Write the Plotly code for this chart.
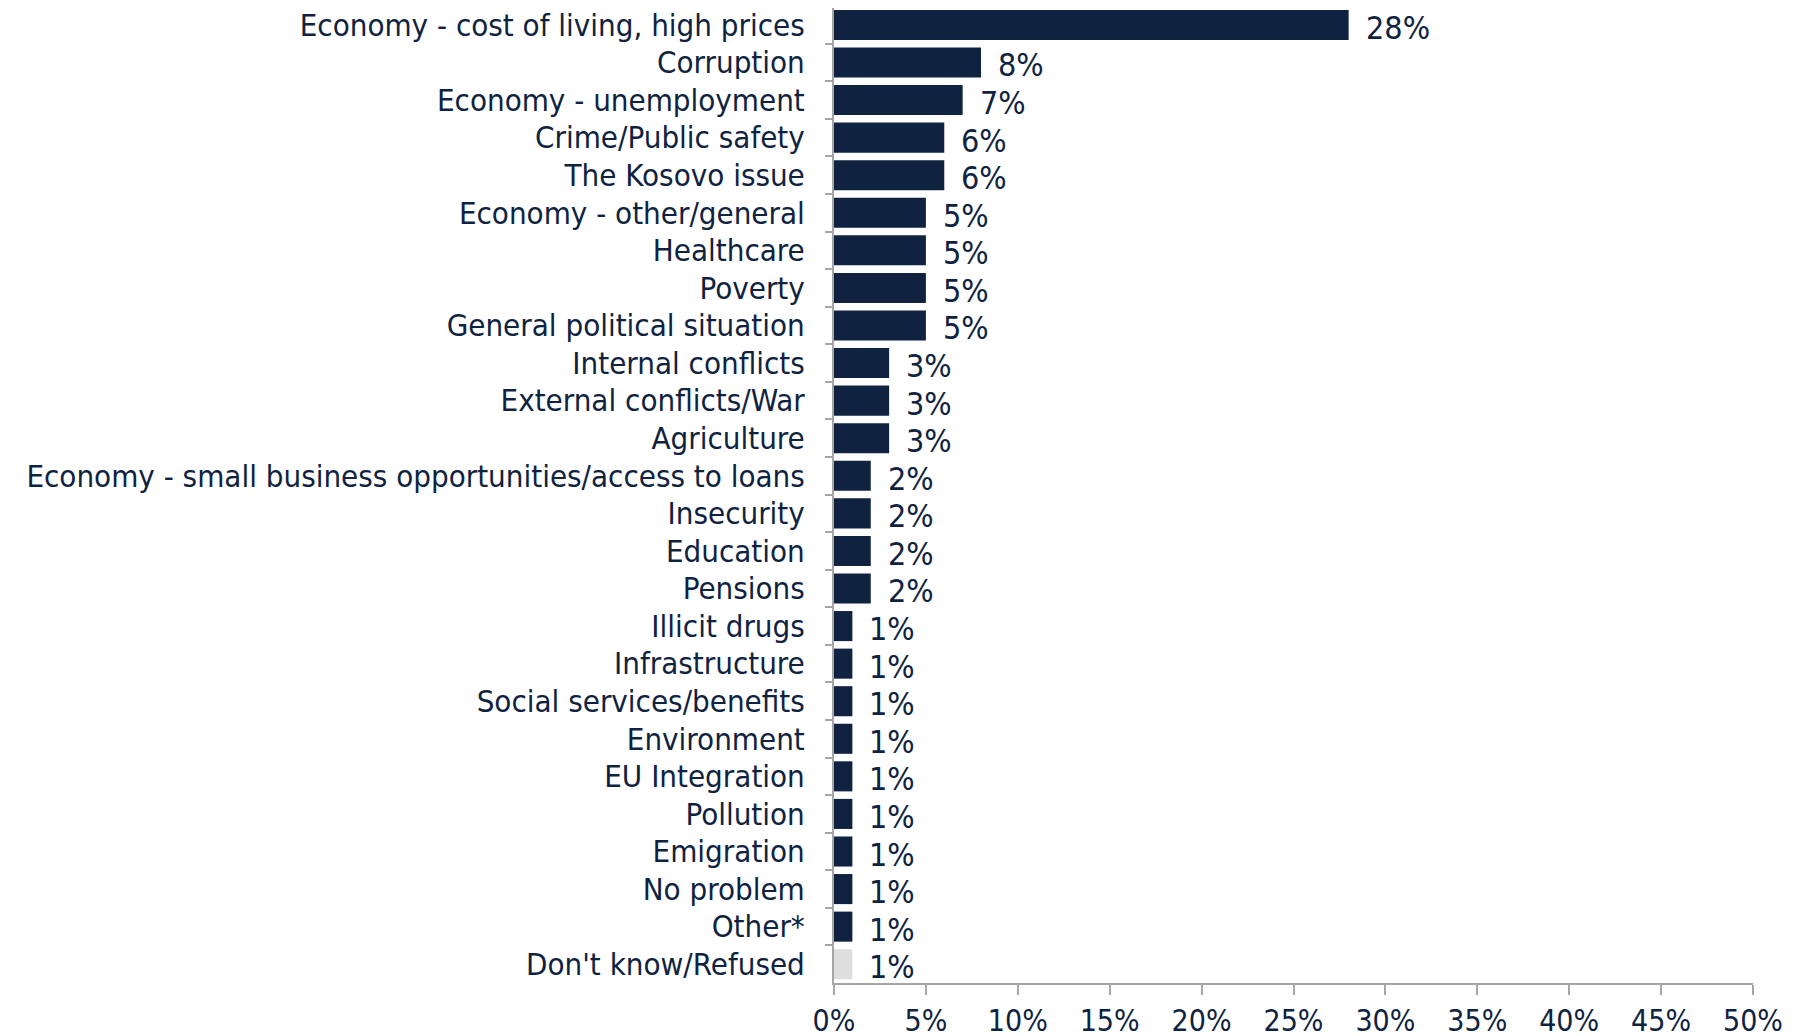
import plotly.graph_objects as go

# Most important problem - share of respondents (%)
categories = [
    "Economy - cost of living, high prices",
    "Corruption",
    "Economy - unemployment",
    "Crime/Public safety",
    "The Kosovo issue",
    "Economy - other/general",
    "Healthcare",
    "Poverty",
    "General political situation",
    "Internal conflicts",
    "External conflicts/War",
    "Agriculture",
    "Economy - small business opportunities/access to loans",
    "Insecurity",
    "Education",
    "Pensions",
    "Illicit drugs",
    "Infrastructure",
    "Social services/benefits",
    "Environment",
    "EU Integration",
    "Pollution",
    "Emigration",
    "No problem",
    "Other*",
    "Don't know/Refused",
]
values = [28, 8, 7, 6, 6, 5, 5, 5, 5, 3, 3, 3, 2, 2, 2, 2, 1, 1, 1, 1, 1, 1, 1, 1, 1, 1]
x_ticks = [0, 5, 10, 15, 20, 25, 30, 35, 40, 45, 50]
x_tick_text = [f"{t}%" for t in x_ticks]

NAVY = "#0F2341"
GREY_BAR = "#DEDEDE"
AXIS = "#A6A6A6"
LABEL_FONT = "DejaVu Sans Condensed, sans-serif"

bar_colors = [GREY_BAR if c == "Don't know/Refused" else NAVY for c in categories]

fig = go.Figure()

fig.add_trace(go.Bar(
    x=values,
    y=categories,
    orientation="h",
    marker=dict(color=bar_colors, line=dict(width=0)),
    width=0.8,
    hoverinfo="skip",
))

# value labels to the right of each bar
for c, v in zip(categories, values):
    fig.add_annotation(
        x=v, y=c,
        text=f"{v}%",
        showarrow=False,
        xanchor="left",
        yanchor="middle",
        xshift=15,
        yshift=-3,
        font=dict(family=LABEL_FONT, size=32, color=NAVY),
    )

# page body adds an 8px offset, margins compensate for it
fig.update_layout(
    width=1800,
    height=1036,
    margin=dict(l=826, r=55, t=0, b=61),
    plot_bgcolor="white",
    paper_bgcolor="white",
    showlegend=False,
    font=dict(family=LABEL_FONT, size=31, color=NAVY),
)

fig.update_xaxes(
    range=[0, 50],
    tickvals=x_ticks,
    ticktext=x_tick_text,
    showgrid=False,
    zeroline=False,
    showline=True,
    linecolor=AXIS,
    linewidth=2,
    ticks="outside",
    ticklen=10,
    tickwidth=2,
    tickcolor=AXIS,
    ticklabelstandoff=0,
    automargin=False,
    tickfont=dict(family=LABEL_FONT, size=30, color=NAVY),
)

fig.update_yaxes(
    categoryorder="array",
    categoryarray=categories,
    range=[len(categories) - 0.5, -0.45],
    showgrid=False,
    showline=True,
    linecolor=AXIS,
    linewidth=2,
    ticks="outside",
    tickson="boundaries",
    ticklen=7,
    tickwidth=2,
    tickcolor=AXIS,
    ticklabelstandoff=21,
    automargin=False,
    tickfont=dict(family=LABEL_FONT, size=31, color=NAVY),
)

fig.write_html("out.html")
